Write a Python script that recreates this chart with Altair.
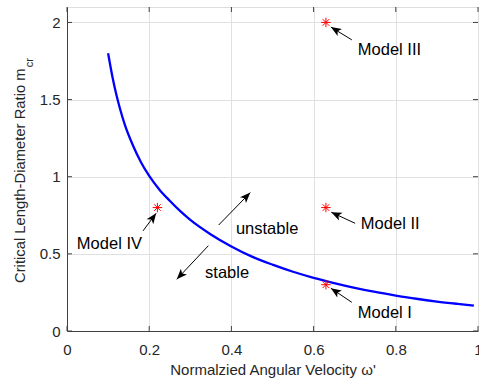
import math
import altair as alt
import pandas as pd

# ---- data ----
curve_x = [0.10, 0.11, 0.12, 0.13, 0.14, 0.16, 0.18, 0.20, 0.225, 0.25, 0.275, 0.30,
           0.35, 0.40, 0.45, 0.50, 0.55, 0.60, 0.65, 0.70, 0.75, 0.80, 0.85, 0.90,
           0.95, 0.99]
curve_y = [1.80, 1.655, 1.533, 1.431, 1.343, 1.206, 1.094, 1.005, 0.916, 0.844, 0.778,
           0.72, 0.626, 0.548, 0.482, 0.43, 0.384, 0.345, 0.311, 0.28, 0.253, 0.23,
           0.209, 0.191, 0.176, 0.165]

model_names = ["Model I", "Model II", "Model III", "Model IV"]
model_x = [0.63, 0.63, 0.63, 0.22]
model_y = [0.30, 0.80, 2.00, 0.80]

note_text = ["Model III", "Model II", "Model I", "Model IV", "unstable", "stable"]
note_x = [0.7075, 0.715, 0.7075, 0.024, 0.411, 0.336]
note_y = [1.822, 0.694, 0.117, 0.567, 0.661, 0.376]
arrow_tail_x = [0.693, 0.701, 0.693, 0.185, 0.369, 0.344]
arrow_tail_y = [1.887, 0.698, 0.186, 0.649, 0.687, 0.553]
arrow_head_x = [0.642, 0.643, 0.642, 0.217, 0.446, 0.267]
arrow_head_y = [1.970, 0.770, 0.277, 0.763, 0.897, 0.335]

x_ticks = [0, 0.2, 0.4, 0.6, 0.8, 1.0]
y_ticks = [0, 0.5, 1, 1.5, 2]

x_title = "Normalzied Angular Velocity \u03c9'"
y_title = "Critical Length-Diameter Ratio m"
y_sub = "cr"

# ---- layout ----
W, H = 411, 324
XMAX, YMAX = 1.0, 2.1
FONT = "Liberation Sans"
AX = "#404040"
TICK_LEN = 5

xs = alt.Scale(domain=[0, XMAX], nice=False, zero=False)
ys = alt.Scale(domain=[0, YMAX], nice=False, zero=False)

curve_df = pd.DataFrame({"x": curve_x, "y": curve_y})
model_df = pd.DataFrame({"name": model_names, "x": model_x, "y": model_y})

angles = []
for tx, ty, hx, hy in zip(arrow_tail_x, arrow_tail_y, arrow_head_x, arrow_head_y):
    dx = (hx - tx) * W / XMAX
    dy = -(hy - ty) * H / YMAX
    angles.append(math.degrees(math.atan2(dx, -dy)) % 360)

note_df = pd.DataFrame({
    "text": note_text, "x": note_x, "y": note_y,
    "tx": arrow_tail_x, "ty": arrow_tail_y,
    "hx": arrow_head_x, "hy": arrow_head_y, "angle": angles,
})

xaxis = alt.Axis(values=x_ticks, format="~g", grid=True, gridColor="#e0e0e0",
                 ticks=False, tickSize=0, labelFlush=False, labelPadding=11,
                 labelFont=FONT, labelFontSize=15, labelColor="#262626",
                 domainColor=AX, title=x_title, titleFont=FONT, titleFontSize=15,
                 titleFontWeight="normal", titleColor="#262626", titlePadding=5)
yaxis = alt.Axis(values=y_ticks, format="~g", grid=True, gridColor="#e0e0e0",
                 ticks=False, tickSize=0, labelPadding=7,
                 labelFont=FONT, labelFontSize=15, labelColor="#262626",
                 domainColor=AX, title=None)

base_curve = alt.Chart(curve_df).mark_line(color="#0000FF", strokeWidth=2.3,
                                           interpolate="monotone").encode(
    x=alt.X("x:Q", scale=xs, axis=xaxis),
    y=alt.Y("y:Q", scale=ys, axis=yaxis),
)

STAR = "M-1,0L1,0M0,-1L0,1M-0.7,-0.7L0.7,0.7M-0.7,0.7L0.7,-0.7"
stars = alt.Chart(model_df).mark_point(shape=STAR, filled=False, size=90,
                                       color="#FF0000", strokeWidth=1, opacity=1).encode(
    x=alt.X("x:Q", scale=xs), y=alt.Y("y:Q", scale=ys))

shafts = alt.Chart(note_df).mark_rule(color="black", strokeWidth=1).encode(
    x=alt.X("tx:Q", scale=xs), y=alt.Y("ty:Q", scale=ys),
    x2="hx:Q", y2="hy:Q")

ARROW = "M0,0L-0.8,2L0,1.5L0.8,2Z"
heads = alt.Chart(note_df).mark_point(shape=ARROW, filled=True, size=110,
                                      color="black", opacity=1, strokeWidth=0).encode(
    x=alt.X("hx:Q", scale=xs), y=alt.Y("hy:Q", scale=ys),
    angle=alt.Angle("angle:Q", scale=None))

notes = alt.Chart(note_df).mark_text(align="left", baseline="middle", font=FONT,
                                     fontSize=16.5, color="black").encode(
    x=alt.X("x:Q", scale=xs), y=alt.Y("y:Q", scale=ys), text="text:N")

xt_df = pd.DataFrame({"t": x_ticks})
yt_df = pd.DataFrame({"t": y_ticks})
tick_bottom = alt.Chart(xt_df).mark_rule(color=AX).encode(
    x=alt.X("t:Q", scale=xs), y=alt.value(H), y2=alt.value(H - TICK_LEN))
tick_top = alt.Chart(xt_df).mark_rule(color=AX).encode(
    x=alt.X("t:Q", scale=xs), y=alt.value(0), y2=alt.value(TICK_LEN))
tick_left = alt.Chart(yt_df).mark_rule(color=AX).encode(
    y=alt.Y("t:Q", scale=ys), x=alt.value(0), x2=alt.value(TICK_LEN))
tick_right = alt.Chart(yt_df).mark_rule(color=AX).encode(
    y=alt.Y("t:Q", scale=ys), x=alt.value(W), x2=alt.value(W - TICK_LEN))

YT_FS = 14.8
yt_start = 276
ytitle = alt.Chart(pd.DataFrame({"t": [y_title]})).mark_text(
    angle=270, align="left", baseline="middle", font=FONT, fontSize=YT_FS,
    color="#262626").encode(text="t:N", x=alt.value(-46), y=alt.value(yt_start))
ysub = alt.Chart(pd.DataFrame({"t": [y_sub]})).mark_text(
    angle=270, align="left", baseline="alphabetic", font=FONT, fontSize=11,
    color="#262626").encode(text="t:N", x=alt.value(-34),
                            y=alt.value(yt_start - 14.503 * YT_FS - 1))

chart = alt.layer(
    base_curve, tick_bottom, tick_top, tick_left, tick_right,
    shafts, heads, stars, notes, ytitle, ysub,
).properties(
    width=W, height=H,
    autosize=alt.AutoSizeParams(type="none"),
    padding={"left": 67, "top": 7, "right": 1, "bottom": 49},
).configure_view(stroke=AX, strokeWidth=1).configure(background="white")

chart.save("out.html", embed_options={"renderer": "svg", "actions": False})
